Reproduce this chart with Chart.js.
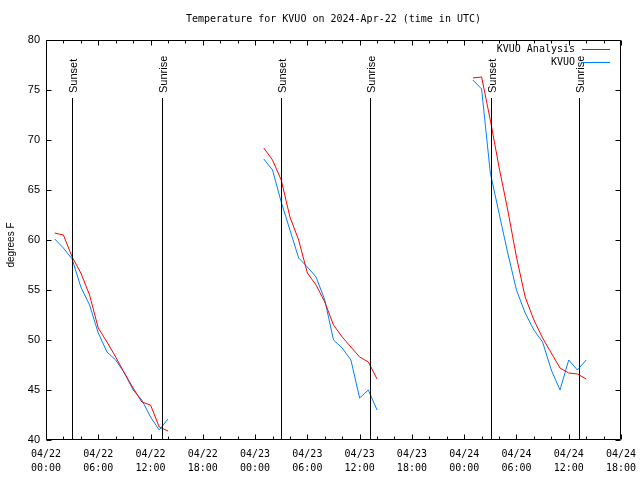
<!DOCTYPE html>
<html><head><meta charset="utf-8">
<script src="https://cdn.jsdelivr.net/npm/chart.js@4/dist/chart.umd.min.js"></script>
<style>html,body{margin:0;padding:0;background:#fff}</style>
</head><body>
<canvas id="c" width="640" height="480"></canvas>
<script>
const titleText = 'Temperature for KVUO on 2024-Apr-22 (time in UTC)';
const yAxisTitle = 'degrees F';
// hours since 04/22 00:00 UTC
const day1Hours = [1,2,3,4,5,6,7,8,9,10,11,12,13,14];
const day2Hours = [25,26,27,28,29,30,31,32,33,34,35,36,37,38];
const day3Hours = [49,50,51,52,53,54,55,56,57,58,59,60,61,62];
const analysisDay1 = [60.7,60.5,58.3,56.7,54.5,51.2,49.8,48.3,46.7,45.2,43.8,43.5,41.3,40.9];
const analysisDay2 = [69.2,68.0,66.0,62.3,60.0,56.7,55.5,53.8,51.5,50.3,49.3,48.3,47.8,46.1];
const analysisDay3 = [76.2,76.3,72.0,67.3,63.0,58.3,54.3,52.0,50.2,48.7,47.2,46.7,46.6,46.1];
const obsDay1 = [60.1,59.2,58.1,55.3,53.5,50.7,48.8,48.0,46.7,45.0,44.0,42.3,41.0,42.1];
const obsDay2 = [68.1,67.0,63.8,61.0,58.2,57.3,56.3,54.0,50.0,49.2,48.0,44.2,45.0,43.0];
const obsDay3 = [76.0,75.1,66.7,62.7,58.7,55.0,52.7,51.0,49.8,47.0,45.0,48.0,47.0,48.0];
const sunsetHours = [3.02, 27.01, 51.08];
const sunriseHours = [13.35, 37.22, 61.21];
const xTickLabels = ['04/22 00:00','04/22 06:00','04/22 12:00','04/22 18:00','04/23 00:00','04/23 06:00','04/23 12:00','04/23 18:00','04/24 00:00','04/24 06:00','04/24 12:00','04/24 18:00'];
const seriesNames = ['KVUO Analysis','KVUO'];
const seriesColors = ['#ff0000','#0080ff'];

function buildPoints(hoursList, valuesList){
  const pts = [];
  hoursList.forEach((hs, k) => {
    if (k > 0) pts.push({x: hs[0] - 0.5, y: null});
    hs.forEach((h, i) => pts.push({x: h, y: valuesList[k][i]}));
  });
  return pts;
}
const allHours = [day1Hours, day2Hours, day3Hours];
const analysisPts = buildPoints(allHours, [analysisDay1, analysisDay2, analysisDay3]);
const obsPts = buildPoints(allHours, [obsDay1, obsDay2, obsDay3]);

const MONO = '"DejaVu Sans Mono", "Liberation Mono", monospace';
const SANS = '"Liberation Sans", Arial, sans-serif';

const decor = {
  id: 'decor',
  afterDatasetsDraw(chart){
    const ctx = chart.ctx, a = chart.chartArea, xs = chart.scales.x, ys = chart.scales.y;
    ctx.save();
    ctx.strokeStyle = '#000'; ctx.lineWidth = 1;
    // sun lines
    ctx.beginPath();
    [...sunsetHours, ...sunriseHours].forEach(h => {
      const px = Math.round(xs.getPixelForValue(h)) + 0.5;
      ctx.moveTo(px, 98); ctx.lineTo(px, a.bottom);
    });
    ctx.stroke();
    ctx.fillStyle = '#000';
    ctx.font = '11px ' + SANS;
    const lab = (h, t) => {
      const px = Math.round(xs.getPixelForValue(h)) + 0.5;
      ctx.save(); ctx.translate(px + 1, 93); ctx.rotate(-Math.PI/2);
      ctx.textAlign = 'left'; ctx.textBaseline = 'middle';
      ctx.fillText(t, 0, 0); ctx.restore();
    };
    sunsetHours.forEach(h => lab(h, 'Sunset'));
    sunriseHours.forEach(h => lab(h, 'Sunrise'));
    // border
    ctx.beginPath();
    ctx.rect(Math.round(a.left)+0.5, Math.round(a.top)+0.5, Math.round(a.right-a.left)-1, Math.round(a.bottom-a.top)-1);
    ctx.stroke();
    // ticks
    ctx.beginPath();
    const L = Math.round(a.left)+0.5, R = Math.round(a.right)-0.5, T = Math.round(a.top)+0.5, B = Math.round(a.bottom)-0.5;
    for (let v = 40; v <= 80; v += 5){
      const py = Math.round(ys.getPixelForValue(v)) + 0.5;
      ctx.moveTo(L, py); ctx.lineTo(L+5, py);
      ctx.moveTo(R, py); ctx.lineTo(R-5, py);
    }
    for (let h = 0; h <= 66; h += 2){
      const px = Math.round(xs.getPixelForValue(h)) + 0.5;
      const len = (h % 6 === 0) ? 5 : 3;
      ctx.moveTo(px, B); ctx.lineTo(px, B-len);
      ctx.moveTo(px, T); ctx.lineTo(px, T+len);
    }
    ctx.stroke();
    // title
    ctx.font = '10px ' + MONO; ctx.textAlign = 'center'; ctx.textBaseline = 'middle';
    ctx.fillText(titleText, (a.left + a.right)/2, 19);
    // y title
    ctx.save(); ctx.font = '10px ' + SANS; ctx.translate(11, 245); ctx.rotate(-Math.PI/2);
    ctx.textAlign = 'center'; ctx.textBaseline = 'middle'; ctx.fillText(yAxisTitle, 0, 0); ctx.restore();
    // legend
    ctx.font = '10px ' + MONO; ctx.textAlign = 'right'; ctx.textBaseline = 'middle';
    const legY = [49.5, 62.5];
    seriesNames.forEach((n, i) => {
      ctx.fillStyle = '#000';
      ctx.fillText(n, 575, legY[i]);
      ctx.strokeStyle = seriesColors[i];
      ctx.beginPath(); ctx.moveTo(582, legY[i]); ctx.lineTo(610, legY[i]); ctx.stroke();
    });
    ctx.restore();
  }
};

new Chart(document.getElementById('c'), {
  type: 'line',
  data: {
    datasets: [
      {label: seriesNames[0], data: analysisPts, borderColor: seriesColors[0], borderWidth: 1, pointRadius: 0, tension: 0, spanGaps: false, fill: false},
      {label: seriesNames[1], data: obsPts, borderColor: seriesColors[1], borderWidth: 1, pointRadius: 0, tension: 0, spanGaps: false, fill: false}
    ]
  },
  options: {
    responsive: false, animation: false, devicePixelRatio: 1,
    layout: {padding: {top: 40, right: 19, left: 0, bottom: 0}},
    plugins: {legend: {display: false}, tooltip: {enabled: false}, title: {display: false}},
    scales: {
      x: {
        type: 'linear', min: 0, max: 66,
        grid: {display: false, drawTicks: false}, border: {display: false},
        afterBuildTicks: s => { s.ticks = xTickLabels.map((t, i) => ({value: i*6})); },
        ticks: {
          autoSkip: false, maxRotation: 0, padding: 8, color: '#000',
          font: {family: MONO, size: 10, lineHeight: 1.35},
          callback: (v, i) => xTickLabels[i] ? xTickLabels[i].split(' ') : ''
        },
        afterFit: s => { s.height = 40; s.paddingLeft = 0; s.paddingRight = 0; }
      },
      y: {
        min: 40, max: 80,
        grid: {display: false, drawTicks: false}, border: {display: false},
        ticks: {stepSize: 5, padding: 6, color: '#000', font: {family: SANS, size: 11}},
        afterFit: s => { s.width = 46; s.paddingTop = 0; s.paddingBottom = 0; }
      }
    }
  },
  plugins: [decor]
});
</script>
</body></html>
